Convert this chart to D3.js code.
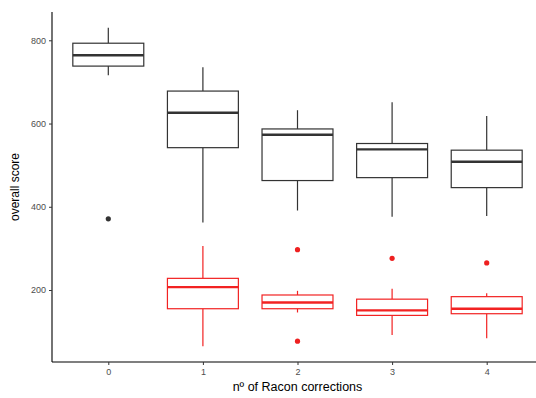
<!DOCTYPE html>
<html>
<head>
<meta charset="utf-8">
<script src="https://cdn.jsdelivr.net/npm/d3@7"></script>
<style>
  html, body { margin: 0; padding: 0; background: #fff; }
  svg { display: block; font-family: "Liberation Sans", Arial, sans-serif; }
</style>
</head>
<body>
<svg id="chart" width="536" height="398"></svg>
<script>
// Number of Racon polishing rounds
const corrections = ["0", "1", "2", "3", "4"];

// Overall score (first series), per correction round: five-number summary + outliers
const scoreLowWhisker = [716, 362, 391, 376, 378];
const scoreQ1         = [738, 542, 463, 470, 446];
const scoreMedian     = [764, 626, 573, 538, 508];
const scoreQ3         = [793, 678, 587, 552, 536];
const scoreHighWhisker= [830, 735, 632, 651, 618];
const scoreOutliers   = [[371], [], [], [], []];

// Second series (drawn in red), no value for round 0
const redCorrections  = ["1", "2", "3", "4"];
const redLowWhisker   = [65, 146, 92, 84];
const redQ1           = [155, 155, 139, 143];
const redMedian       = [207, 170, 151, 155];
const redQ3           = [228, 188, 178, 184];
const redHighWhisker  = [306, 198, 203, 192];
const redOutliers     = [[], [297, 77], [276], [265]];

const yTicks = [200, 400, 600, 800];

const margin = { left: 52, top: 12, right: -7, bottom: 36 };
const W = 536, H = 398;
const plotLeft = margin.left, plotRight = W - margin.right;
const svg = d3.select("#chart");

const x = d3.scalePoint()
  .domain(corrections)
  .range([plotLeft + 56.3, plotRight - 56.3]);
const step = x.step();

const y = d3.scaleLinear()
  .domain([27, 868])
  .range([H - margin.bottom, margin.top]);

function makeBoxes(cats, lo, q1, med, q3, hi, outs) {
  return cats.map((c, i) => ({ cat: c, lo: lo[i], q1: q1[i], med: med[i], q3: q3[i], hi: hi[i], out: outs[i] }));
}

const groups = [
  { color: "#333333", pointColor: "#333333",
    boxes: makeBoxes(corrections, scoreLowWhisker, scoreQ1, scoreMedian, scoreQ3, scoreHighWhisker, scoreOutliers) },
  { color: "#f22222", pointColor: "#ee2020",
    boxes: makeBoxes(redCorrections, redLowWhisker, redQ1, redMedian, redQ3, redHighWhisker, redOutliers) }
];

const boxW = step * 0.75;

groups.forEach(g => {
  const layer = svg.append("g");
  const b = layer.selectAll("g.box").data(g.boxes).join("g").attr("class", "box");
  // whiskers
  b.append("line")
    .attr("x1", d => x(d.cat)).attr("x2", d => x(d.cat))
    .attr("y1", d => y(d.q3)).attr("y2", d => y(d.hi))
    .attr("stroke", g.color).attr("stroke-width", 1.2);
  b.append("line")
    .attr("x1", d => x(d.cat)).attr("x2", d => x(d.cat))
    .attr("y1", d => y(d.q1)).attr("y2", d => y(d.lo))
    .attr("stroke", g.color).attr("stroke-width", 1.2);
  // box
  b.append("rect")
    .attr("x", d => x(d.cat) - boxW / 2)
    .attr("width", boxW)
    .attr("y", d => y(d.q3))
    .attr("height", d => y(d.q1) - y(d.q3))
    .attr("fill", "#fff")
    .attr("stroke", g.color).attr("stroke-width", 1.2);
  // median
  b.append("line")
    .attr("x1", d => x(d.cat) - boxW / 2).attr("x2", d => x(d.cat) + boxW / 2)
    .attr("y1", d => y(d.med)).attr("y2", d => y(d.med))
    .attr("stroke", g.color).attr("stroke-width", 2.4);
  // outliers
  b.selectAll("circle").data(d => d.out.map(v => ({ cat: d.cat, v })))
    .join("circle")
    .attr("cx", d => x(d.cat)).attr("cy", d => y(d.v))
    .attr("r", 2.6).attr("fill", g.pointColor);
});

// axes
const yAxis = d3.axisLeft(y).tickValues(yTicks).tickSize(3).tickPadding(3);
const gy = svg.append("g").attr("transform", `translate(${plotLeft},0)`).call(yAxis);
gy.select(".domain").attr("d", `M0,${y(868)}V${y(27)}`).attr("stroke", "#000").attr("stroke-width", 1.1);

const xAxis = d3.axisBottom(x).tickSize(3).tickPadding(4);
const gx = svg.append("g").attr("transform", `translate(0,${y(27)})`).call(xAxis);
gx.select(".domain").attr("d", `M${plotLeft},0H${plotRight}`).attr("stroke", "#000").attr("stroke-width", 1.1);

[gx, gy].forEach(g => {
  g.selectAll(".tick line").attr("stroke", "#333").attr("stroke-width", 1);
  g.selectAll(".tick text").attr("fill", "#4d4d4d").style("font-size", "9px");
});

// axis titles
svg.append("text")
  .attr("x", (plotLeft + plotRight) / 2)
  .attr("y", 391)
  .attr("text-anchor", "middle")
  .style("font-size", "12.5px")
  .attr("fill", "#000")
  .text("nº of Racon corrections");

svg.append("text")
  .attr("transform", `translate(19,${(y(27) + y(868)) / 2}) rotate(-90)`)
  .attr("text-anchor", "middle")
  .style("font-size", "12px")
  .attr("fill", "#000")
  .text("overall score");
</script>
</body>
</html>
